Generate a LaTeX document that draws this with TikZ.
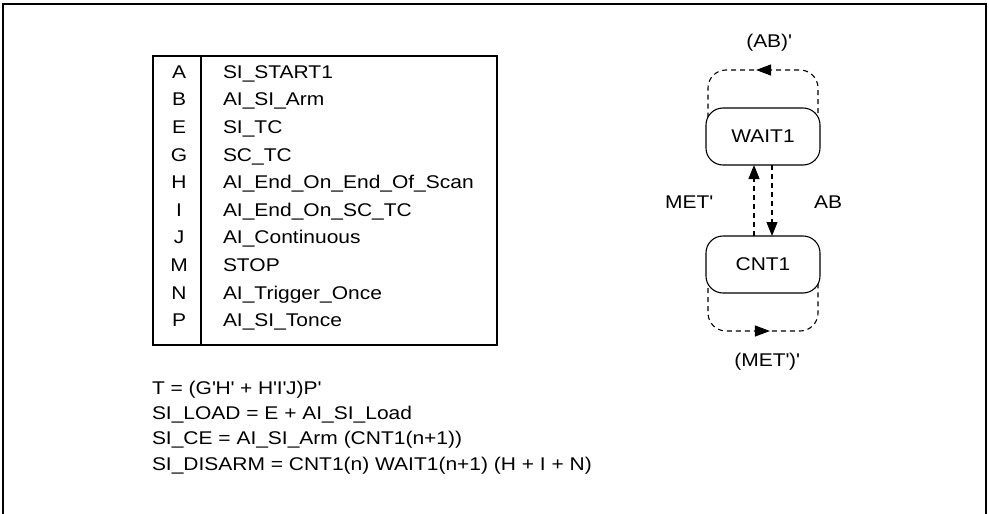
\documentclass[tikz,border=0pt]{standalone}
\usepackage{fontspec}
\setmainfont{Liberation Sans}[FakeStretch=1.14]
\usetikzlibrary{arrows.meta,decorations.markings,backgrounds,calc}
\newcommand{\apo}{\textquotesingle}
\begin{document}
\begin{tikzpicture}[x=1pt,y=-1pt,
  font=\fontsize{18.4pt}{22pt}\selectfont,
  every node/.style={inner sep=0pt, outer sep=0pt},
  lbl/.style={anchor=base west},
  key/.style={anchor=base},
  state/.style={draw, line width=1.1pt, rounded corners=17pt, minimum width=114pt, minimum height=57pt, fill=white},
  trans/.style={dash pattern=on 5pt off 4pt, line width=1.1pt},
  tip/.style={-{Triangle[length=14pt,width=11pt]}},
  midarrow/.style={postaction={decorate}, decoration={markings, mark=at position #1 with {\arrow{Triangle[length=15pt,width=11pt]}}}}
]
\useasboundingbox (0,0) rectangle (989,514);
\clip (0,0) rectangle (989,514);
% outer frame
\draw[line width=2pt] (3,530) -- (3,4) -- (986,4) -- (986,530);
% table
\draw[line width=1.2pt] (153,56) rectangle (497,345);
\draw[line width=1.2pt] (201,56) -- (201,345);
\foreach \k/\v [count=\i from 0] in {A/SI\_START1, B/AI\_SI\_Arm, E/SI\_TC, G/SC\_TC, H/AI\_End\_On\_End\_Of\_Scan, I/AI\_End\_On\_SC\_TC, J/AI\_Continuous, M/STOP, N/AI\_Trigger\_Once, P/AI\_SI\_Tonce}{
  \node[key] (k\i) at ({179},{78.2+27.6*\i}) {\k};
  \node[lbl] (v\i) at ({223},{78.2+27.6*\i}) {\v};
}
% equations
\node[lbl] (eq1) at (152,394.6) {T = (G\apo H\apo\ + H\apo I\apo J)P\apo};
\node[lbl] (eq2) at (152,419.6) {SI\_LOAD = E + AI\_SI\_Load};
\node[lbl] (eq3) at (152,444.6) {SI\_CE = AI\_SI\_Arm (CNT1(n+1))};
\node[lbl] (eq4) at (152,470.6) {SI\_DISARM = CNT1(n) WAIT1(n+1) (H + I + N)};
% state diagram
\node[state] (W1) at (763,136.5) {WAIT1};
\node[state] (C1) at (763,264.5) {CNT1};
\draw[trans,tip] ($(C1.north)+(-9,0)$) -- ($(W1.south)+(-9,0)$);
\draw[trans,tip] ($(W1.south)+(9,0)$) -- ($(C1.north)+(9,0)$);
\begin{scope}[on background layer]
\draw[trans, rounded corners=18pt, midarrow=0.535] ($(W1.north east)+(-2,14)$) -- ($(W1.north east)+(-2,-38)$) -- ($(W1.north west)+(2,-38)$) -- ($(W1.north west)+(2,14)$);
\draw[trans, rounded corners=18pt, midarrow=0.535] ($(C1.south west)+(2,-14)$) -- ($(C1.south west)+(2,38)$) -- ($(C1.south east)+(-2,38)$) -- ($(C1.south east)+(-2,-14)$);
\end{scope}
\node[anchor=base east] (lMET) at (713,208.7) {MET\apo};
\node[key] (lAB) at (828,208.7) {AB};
\node[key] (lABn) at (769,47.7) {(AB)\apo};
\node[key] (lMETn) at (767,366.7) {(MET\apo)\apo};
\end{tikzpicture}
\end{document}
